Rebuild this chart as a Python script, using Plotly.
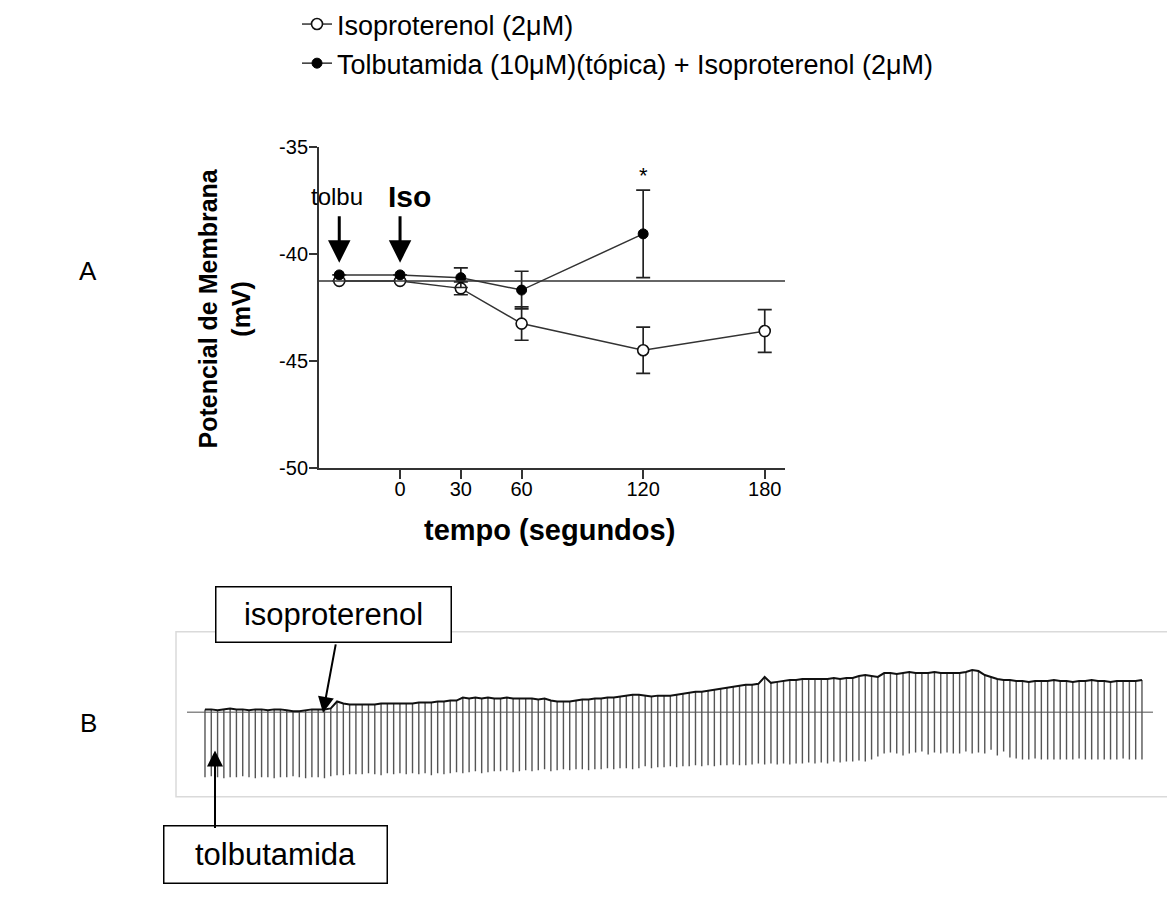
import plotly.graph_objects as go

# ---------------- Panel A data ----------------
time_s = [-30, 0, 30, 60, 120, 180]
iso_mean = [-41.25, -41.25, -41.6, -43.25, -44.5, -43.6]
iso_sem = [None, None, 0.3, 0.78, 1.08, 1.0]

time_tol = [-30, 0, 30, 60, 120]
tol_mean = [-40.97, -40.97, -41.1, -41.68, -39.05]
tol_sem = [None, None, 0.46, 0.88, 2.05]

baseline_mv = -41.25
x_ticks = [0, 30, 60, 120, 180]
x_ticktext = ["0", "30", "60", "120", "180"]
y_ticks = [-50, -45, -40, -35]
y_ticktext = ["-50", "-45", "-40", "-35"]

# ---------------- Panel B data (recording trace, arbitrary units) ----------------
spike_top = [3, 3, 2, 3, 4, 3, 3, 2, 3, 3, 2, 3, 3, 2, 1, 1, 2, 3, 3, 3,
             4, 11, 9, 8, 8, 8, 8, 8, 9, 9, 9,
             9, 9, 9, 10, 10, 10, 11, 11, 12,
             12, 15, 14, 15, 14, 15, 14, 14, 15, 14, 14,
             14, 14, 13, 14, 12, 11, 11, 11,
             12, 13, 13, 14, 14, 15, 15, 16, 17, 18, 18,
             17, 16, 17, 17, 17, 18,
             19, 20, 21, 21, 22,
             23, 24, 25, 26, 27, 28, 28, 29,
             36, 30, 31, 32, 33, 33,
             34, 34, 34, 34, 34, 35, 34, 35, 35,
             37, 38, 37, 36, 40,
             40, 39, 40, 41, 40, 40, 40, 41, 40, 40, 40, 40,
             41, 43, 42,
             38, 36, 34, 33,
             33, 32, 32, 31, 32, 32, 32, 33, 32, 32, 31, 32, 32, 33, 32, 32, 31, 32, 32, 32, 32, 33]
spike_bottom = [-66, -65, -66, -67, -66, -66, -65, -66, -67, -66, -66, -67, -66, -66, -65, -66, -67, -66, -66, -67, -65, -64, -64, -63, -63,
                -63, -62, -63, -64, -62, -63, -62, -63, -62, -63, -62, -64, -62, -63, -62, -61, -62, -61, -60, -62, -61,
                -60, -60, -59, -61, -60, -59, -60, -59, -58, -60, -59, -58, -59, -58, -58, -59, -58, -58, -57, -58, -57, -57, -58, -57, -55,
                -57, -56, -56, -55, -56, -55, -55, -54, -55, -54, -55, -54, -54, -53, -54, -54, -53, -52, -53, -52,
                -53, -52, -53, -52, -52, -51, -52, -51, -52, -50, -51, -50, -50, -49, -50, -48,
                -45, -42, -41, -42, -44, -42, -41, -40, -43,
                -41, -42, -41, -42, -42, -40, -42, -41, -42, -38, -44, -40,
                -46, -47, -48, -48, -47, -48, -48, -48, -48, -48, -48, -47, -48, -48, -48, -48, -48, -48, -47, -48, -48, -48]
spike_index = list(range(len(spike_top)))

# ---------------- helpers for layout (pixel -> paper) ----------------
W, H = 1167, 912
def fx(p):
    return p / W
def fy(p):
    return 1 - p / H

FONT = "Arial, Liberation Sans, sans-serif"

fig = go.Figure()

# Panel A traces
fig.add_trace(go.Scatter(
    x=time_s, y=iso_mean, name="Isoproterenol (2\u03bcM)",
    mode="lines+markers", legendgroup="g1",
    line=dict(color="#333333", width=1.5),
    marker=dict(symbol="circle", size=11, color="white", line=dict(color="#111111", width=1.6)),
    error_y=dict(type="data", array=iso_sem, color="#222222", thickness=1.7, width=7),
    xaxis="x", yaxis="y"))
fig.add_trace(go.Scatter(
    x=time_tol, y=tol_mean, name="Tolbutamida (10\u03bcM)(t\u00f3pica) + Isoproterenol (2\u03bcM)",
    mode="lines+markers", legendgroup="g2",
    line=dict(color="#333333", width=1.5),
    marker=dict(symbol="circle", size=10, color="black", line=dict(color="black", width=1)),
    error_y=dict(type="data", array=tol_sem, color="#222222", thickness=1.7, width=7),
    xaxis="x", yaxis="y"))

# Panel B traces: spikes and envelope
sx, sy = [], []
for i, t, b in zip(spike_index, spike_top, spike_bottom):
    sx += [i, i, None]
    sy += [t, b, None]
fig.add_trace(go.Scatter(x=sx, y=sy, mode="lines", line=dict(color="#555555", width=1.4),
                         showlegend=False, hoverinfo="skip", xaxis="x2", yaxis="y2"))
fig.add_trace(go.Scatter(x=spike_index, y=spike_top, mode="lines", line=dict(color="#111111", width=2),
                         showlegend=False, hoverinfo="skip", xaxis="x2", yaxis="y2"))

axis_font = dict(family=FONT, size=20, color="black")
fig.update_layout(
    width=W, height=H,
    margin=dict(l=0, r=0, t=0, b=0),
    paper_bgcolor="white", plot_bgcolor="white",
    font=dict(family=FONT, color="black"),
    xaxis=dict(domain=[fx(319), fx(785)], range=[-40, 190], tickvals=x_ticks, ticktext=x_ticktext,
               ticks="outside", ticklen=9, tickwidth=1.6, tickcolor="#333", ticklabelstandoff=-7,
               showline=True, linewidth=2, linecolor="#333", showgrid=False, zeroline=False,
               tickfont=axis_font, anchor="y"),
    yaxis=dict(domain=[fy(463), fy(131)], range=[-50, -35], tickvals=y_ticks, ticktext=y_ticktext,
               ticks="outside", ticklen=8, tickwidth=1.6, tickcolor="#333", ticklabelstandoff=-3,
               showline=True, linewidth=2, linecolor="#333", showgrid=False, zeroline=False,
               tickfont=axis_font, anchor="x"),
    xaxis2=dict(domain=[fx(176), 1.0], range=[-4.61, 152.98], visible=False, anchor="y2"),
    yaxis2=dict(domain=[fy(804), fy(633)], range=[-86, 82], visible=False, anchor="x2"),
    legend=dict(x=fx(297), y=fy(-22), xanchor="left", yanchor="top",
                font=dict(family=FONT, size=27, color="black"),
                tracegroupgap=1, itemwidth=30, bgcolor="rgba(0,0,0,0)"),
    showlegend=True,
)

shapes = [
    dict(type="line", xref="x domain", x0=0, x1=1, yref="y", y0=baseline_mv, y1=baseline_mv,
         line=dict(color="#333333", width=1.5)),
    dict(type="rect", xref="paper", yref="paper", x0=fx(176), x1=fx(1175), y0=fy(804), y1=fy(633),
         line=dict(color="#dadada", width=1.5), layer="below"),
    dict(type="line", xref="x2", yref="y2", x0=-2.86, x1=150.75, y0=0, y1=0,
         line=dict(color="#8a8a8a", width=1.5), layer="below"),
]

def label(text, x, y, size, xref="paper", yref="paper", **kw):
    d = dict(text=text, x=x, y=y, xref=xref, yref=yref, showarrow=False,
             xanchor="center", yanchor="middle",
             font=dict(family=FONT, size=size, color="black"))
    d.update(kw)
    return d

ann = []
# Panel letters
ann.append(label("A", fx(88), fy(259), 26))
ann.append(label("B", fx(88), fy(728), 26))
# Axis titles
ann.append(label("<b>Potencial de Membrana</b><br><b>(mV)</b>", fx(225), fy(298), 25, textangle=-90))
ann.append(label("<b>tempo (segundos)</b>", fx(549), fy(527), 29))
# Drug labels and arrows in A
ann.append(label("tolbu", -31, -37.3, 24, xref="x", yref="y"))
ann.append(label("<b>Iso</b>", 4.5, -37.3, 30, xref="x", yref="y"))
for tx in (-30, 0):
    ann.append(dict(text="", x=tx, y=-40.4, xref="x", yref="y", ax=0, ay=-48,
                    showarrow=True, arrowhead=2, arrowsize=1.5, arrowwidth=3, arrowcolor="black"))
ann.append(label("*", 120, -36.3, 22, xref="x", yref="y"))
# Panel B labels
ann.append(label("isoproterenol", fx(333), fy(615), 31, width=232, height=52, bgcolor="white",
                 bordercolor="black", borderwidth=1.5))
ann.append(dict(text="", x=fx(323), y=fy(717), xref="paper", yref="paper", ax=13, ay=-70,
                showarrow=True, arrowhead=2, arrowsize=1.6, arrowwidth=2, arrowcolor="black"))
ann.append(label("tolbutamida", fx(275), fy(864), 31, width=220, height=54, bgcolor="white",
                 bordercolor="black", borderwidth=1.5))
ann.append(dict(text="", x=fx(215), y=fy(756), xref="paper", yref="paper", ax=0, ay=79,
                showarrow=True, arrowhead=2, arrowsize=1.6, arrowwidth=2, arrowcolor="black"))

fig.update_layout(shapes=shapes, annotations=ann)
fig.write_html("out.html", config={"displayModeBar": False},
               post_script="document.body.style.margin='0px';")
